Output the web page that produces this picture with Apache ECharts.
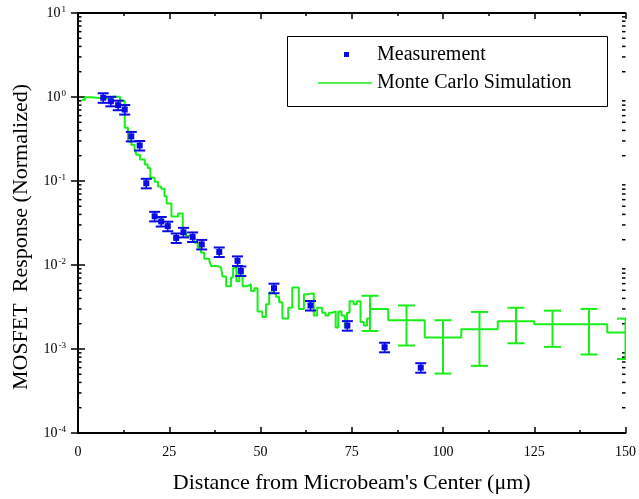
<!DOCTYPE html>
<html>
<head>
<meta charset="utf-8">
<script src="https://cdn.jsdelivr.net/npm/echarts@6/dist/echarts.min.js"></script>
<style>
  html, body { margin: 0; padding: 0; background: #fff; }
  #chart { width: 639px; height: 499px; }
</style>
</head>
<body>
<div id="chart"></div>
<script>
// measured points (blue)
const measX = [6.9, 9.0, 11.0, 12.8, 14.6, 16.9, 18.7, 21.0, 22.8, 24.6, 26.9, 28.9, 31.4, 33.9, 38.7, 43.7, 44.6, 53.7, 63.7, 73.8, 84.0, 93.9]
const measY = [0.98, 0.89, 0.80, 0.71, 0.34, 0.265, 0.094, 0.038, 0.033, 0.029, 0.021, 0.0245, 0.0216, 0.0176, 0.0143, 0.0112, 0.0085, 0.0053, 0.0033, 0.0019, 0.00105, 0.0006]
const measErr = [0.13, 0.13, 0.13, 0.13, 0.13, 0.13, 0.13, 0.13, 0.13, 0.13, 0.13, 0.13, 0.13, 0.13, 0.13, 0.13, 0.13, 0.13, 0.13, 0.13, 0.13, 0.13]

// monte carlo histogram: left bin edge + value
const simX = [1.0, 1.9, 3.7, 9.5, 11.5, 12.8, 13.7, 14.6, 15.5, 16.0, 17.0, 18.3, 19.1, 19.8, 21.0, 21.9, 22.8, 23.7, 24.3, 25.6,
  27.4, 28.7, 29.6, 31.0, 31.9, 32.8, 33.7, 34.6, 36.0, 36.5, 38.3, 39.2, 39.6, 40.6, 41.9, 42.5, 43.4, 44.2, 45.1, 46.4,
  47.4, 48.3, 49.2, 50.5, 51.5, 52.4, 53.3, 54.2, 55.1, 56.0, 57.6, 58.7, 60.5, 61.9, 63.3, 64.6, 65.5, 66.9, 67.8, 68.7,
  69.6, 70.6, 71.3, 72.2, 73.1, 73.7, 74.4, 75.5, 76.4, 77.4, 78.3, 79.2, 80, 85, 95, 105, 115, 125, 145, 150]
const simY = [0.93, 0.99, 0.94, 1.01, 0.90, 0.43, 0.296, 0.27, 0.236, 0.206, 0.18, 0.157, 0.143, 0.109, 0.098, 0.086, 0.081, 0.066, 0.054, 0.0377,
  0.041, 0.0242, 0.0221, 0.0211, 0.0184, 0.016, 0.014, 0.0119, 0.0111, 0.0097, 0.0093, 0.0089, 0.0073, 0.0056, 0.0071, 0.0093, 0.0064, 0.0089, 0.0056, 0.0059,
  0.0049, 0.0053, 0.0028, 0.0024, 0.0034, 0.0047, 0.0045, 0.0042, 0.0036, 0.0023, 0.0031, 0.0054, 0.0030, 0.0045, 0.0046, 0.0025, 0.0031, 0.0027, 0.0025, 0.0027,
  0.0028, 0.0018, 0.0028, 0.0025, 0.0018, 0.0027, 0.0037, 0.0034, 0.0037, 0.0021, 0.0019, 0.0023, 0.0030, 0.0022, 0.00137, 0.00172, 0.00214, 0.00197, 0.00157, 0.00157]

// error bars of the coarse bins
const simErrX = [80, 90, 100, 110, 120, 130, 140, 150]
const simErrLow = [0.00164, 0.0011, 0.00051, 0.00063, 0.00117, 0.00106, 0.00086, 0.00076]
const simErrHigh = [0.0043, 0.0033, 0.0022, 0.00276, 0.0031, 0.00286, 0.0030, 0.0023]

const xTicks = [0, 25, 50, 75, 100, 125, 150]
const yDecades = [-4, -3, -2, -1, 0, 1]
const yMinor = [2, 3, 4, 5, 6, 7, 8, 9]

const FONT = 'Liberation Serif'
const BLUE = '#0a0ae6'
const GREEN = '#19ee19'

const chart = echarts.init(document.getElementById('chart'))

let minorData = []
yDecades.slice(0, -1).forEach(d => {
  yMinor.forEach(m => minorData.push(m * Math.pow(10, d)))
})

const axisLine = { show: true, lineStyle: { color: '#000', width: 2 } }

let option = {
  animation: false,
  grid: { left: 78, right: 10, top: 13, bottom: 65 },
  xAxis: [
    {
      type: 'value', min: xTicks[0], max: xTicks[xTicks.length - 1], interval: 25,
      name: "Distance from Microbeam's Center (μm)",
      nameLocation: 'middle', nameGap: 39,
      nameTextStyle: { fontFamily: FONT, fontSize: 22, color: '#000' },
      axisLine: axisLine,
      axisTick: { inside: true, length: 6, lineStyle: { color: '#000', width: 1.5 } },
      minorTick: { show: true, splitNumber: 2, length: 3, lineStyle: { color: '#000', width: 1.5 } },
      axisLabel: { fontFamily: FONT, fontSize: 14, color: '#000', margin: 12 },
      splitLine: { show: false }
    },
    {
      type: 'value', min: 0, max: 150, interval: 25, position: 'top',
      axisLine: axisLine,
      axisTick: { inside: true, length: 6, lineStyle: { color: '#000', width: 1.5 } },
      minorTick: { show: true, splitNumber: 2, length: 3, lineStyle: { color: '#000', width: 1.5 } },
      axisLabel: { show: false },
      splitLine: { show: false }
    }
  ],
  yAxis: [
    {
      type: 'log', logBase: 10, min: 1e-4, max: 10,
      name: 'MOSFET  Response (Normalized)',
      nameLocation: 'middle', nameGap: 45, nameRotate: 90,
      nameTextStyle: { fontFamily: FONT, fontSize: 22, color: '#000', padding: [0, 28, 0, 0] },
      axisLine: axisLine,
      axisTick: { inside: true, length: 7, lineStyle: { color: '#000', width: 1.5 } },
      axisLabel: {
        margin: 12, color: '#000',
        formatter: v => '{b|10}{e|' + Math.round(Math.log10(v)) + '}',
        rich: {
          b: { fontFamily: FONT, fontSize: 14, color: '#000', lineHeight: 16 },
          e: { fontFamily: FONT, fontSize: 9, color: '#000', verticalAlign: 'top', padding: [0, 0, 0, 1] }
        }
      },
      splitLine: { show: false }
    },
    {
      type: 'log', logBase: 10, min: 1e-4, max: 10, position: 'right',
      axisLine: axisLine,
      axisTick: { inside: true, length: 7, lineStyle: { color: '#000', width: 1.5 } },
      axisLabel: { show: false },
      splitLine: { show: false }
    }
  ],
  series: [
    {
      // minor log ticks on left and right edges
      type: 'custom', silent: true, z: 1,
      data: minorData,
      encode: { y: 0 },
      renderItem(params, api) {
        const y = api.coord([0, api.value(0)])[1]
        const xl = api.coord([0, 1])[0]
        const xr = api.coord([150, 1])[0]
        const style = { stroke: '#000', lineWidth: 1.5 }
        return {
          type: 'group', children: [
            { type: 'line', shape: { x1: xl, y1: y, x2: xl + 3.5, y2: y }, style },
            { type: 'line', shape: { x1: xr, y1: y, x2: xr - 3.5, y2: y }, style }
          ]
        }
      }
    },
    {
      name: 'Monte Carlo Simulation',
      type: 'line', step: 'end', showSymbol: false, symbol: 'none',
      data: simX.map((x, i) => [x, simY[i]]),
      lineStyle: { color: GREEN, width: 2 },
      itemStyle: { color: GREEN },
      clip: true, z: 3
    },
    {
      type: 'custom', clip: true, z: 3,
      data: simErrX.map((x, i) => [x, simErrLow[i], simErrHigh[i]]),
      renderItem(params, api) {
        const lo = api.coord([api.value(0), api.value(1)])
        const hi = api.coord([api.value(0), api.value(2)])
        const w = 8.5
        const style = { stroke: GREEN, lineWidth: 2 }
        return {
          type: 'group', children: [
            { type: 'line', shape: { x1: lo[0], y1: lo[1], x2: hi[0], y2: hi[1] }, style },
            { type: 'line', shape: { x1: lo[0] - w, y1: lo[1], x2: lo[0] + w, y2: lo[1] }, style },
            { type: 'line', shape: { x1: hi[0] - w, y1: hi[1], x2: hi[0] + w, y2: hi[1] }, style }
          ]
        }
      }
    },
    {
      name: 'Measurement',
      type: 'custom', clip: true, z: 4,
      data: measX.map((x, i) => [x, measY[i], measY[i] * (1 - measErr[i]), measY[i] * (1 + measErr[i])]),
      renderItem(params, api) {
        const c = api.coord([api.value(0), api.value(1)])
        const lo = api.coord([api.value(0), api.value(2)])
        const hi = api.coord([api.value(0), api.value(3)])
        const w = 5.5
        const style = { stroke: BLUE, lineWidth: 2 }
        return {
          type: 'group', children: [
            { type: 'line', shape: { x1: c[0], y1: lo[1], x2: c[0], y2: hi[1] }, style: { stroke: BLUE, lineWidth: 1.5 } },
            { type: 'line', shape: { x1: c[0] - w, y1: lo[1], x2: c[0] + w, y2: lo[1] }, style },
            { type: 'line', shape: { x1: c[0] - w, y1: hi[1], x2: c[0] + w, y2: hi[1] }, style },
            { type: 'rect', shape: { x: c[0] - 3, y: c[1] - 3, width: 6, height: 6 }, style: { fill: BLUE } }
          ]
        }
      }
    }
  ],
  graphic: [
    { type: 'rect', left: 287, top: 36, shape: { width: 320, height: 70 }, style: { fill: '#fff', stroke: '#000', lineWidth: 1 }, z: 10 },
    { type: 'rect', left: 344, top: 52, shape: { width: 5, height: 5 }, style: { fill: BLUE }, z: 11 },
    { type: 'line', shape: { x1: 318, y1: 83, x2: 372, y2: 83 }, style: { stroke: GREEN, lineWidth: 1.5 }, z: 11 },
    { type: 'text', x: 377, y: 55, style: { text: 'Measurement', font: '20px "Liberation Serif"', fill: '#000', verticalAlign: 'middle' }, z: 11 },
    { type: 'text', x: 377, y: 83, style: { text: 'Monte Carlo Simulation', font: '20px "Liberation Serif"', fill: '#000', verticalAlign: 'middle' }, z: 11 }
  ]
}

chart.setOption(option)
</script>
</body>
</html>
